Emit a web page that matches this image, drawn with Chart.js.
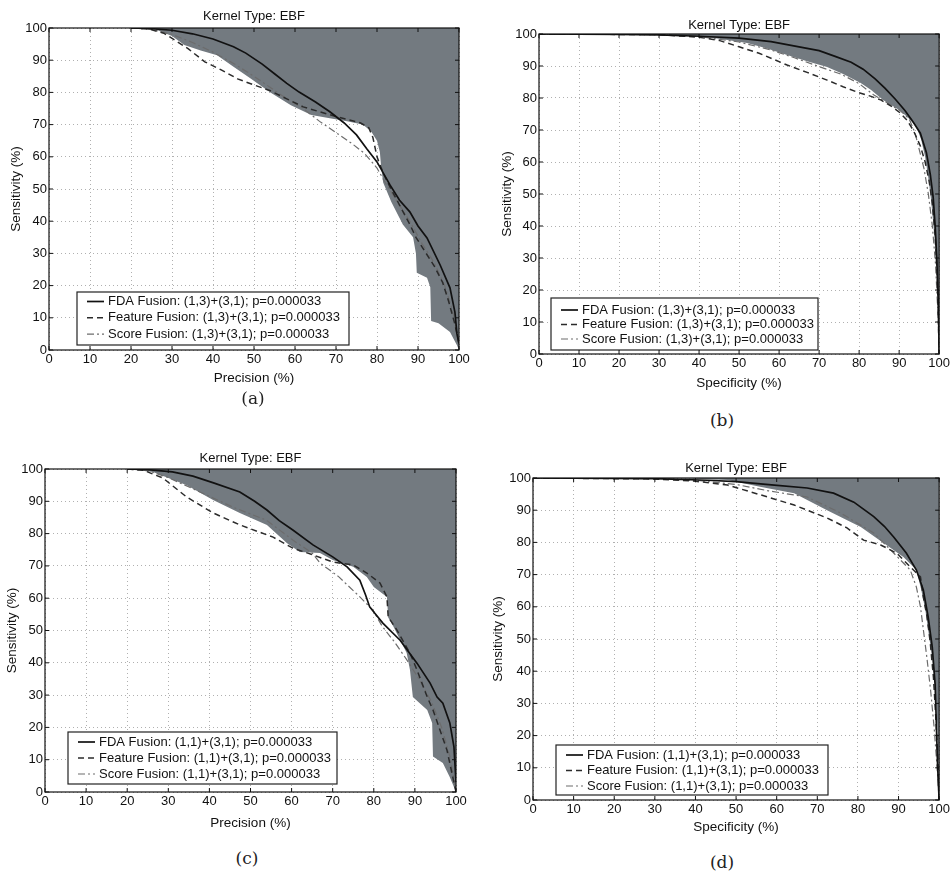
<!DOCTYPE html>
<html>
<head>
<meta charset="utf-8">
<script src="https://cdn.jsdelivr.net/npm/chart.js@4/dist/chart.umd.min.js"></script>
<style>
  body { margin: 0; background: #fff; width: 952px; height: 877px; position: relative; overflow: hidden; }
  canvas { position: absolute; }
  .cap { position: absolute; font-family: "DejaVu Serif", "Liberation Serif", serif; font-size: 17px; color: #222; transform: translate(-50%, -50%); }
</style>
</head>
<body>
<canvas id="pa" style="left:0;top:0" width="476" height="392"></canvas>
<canvas id="pb" style="left:476px;top:0" width="476" height="400"></canvas>
<canvas id="pc" style="left:0;top:430px" width="476" height="410"></canvas>
<canvas id="pd" style="left:476px;top:430px" width="476" height="410"></canvas>
<div class="cap" style="left:253px;top:398px">(a)</div>
<div class="cap" style="left:722px;top:420px">(b)</div>
<div class="cap" style="left:247px;top:858px">(c)</div>
<div class="cap" style="left:722px;top:862px">(d)</div>
<script>
// tick values shared by both axes of every panel
const tickValues = [0, 10, 20, 30, 40, 50, 60, 70, 80, 90, 100];
const plotTitle = 'Kernel Type: EBF';
const yTitle = 'Sensitivity (%)';
const xTitlePrecision = 'Precision (%)';
const xTitleSpecificity = 'Specificity (%)';

const labels13 = ['FDA Fusion: (1,3)+(3,1); p=0.000033', 'Feature Fusion: (1,3)+(3,1); p=0.000033', 'Score Fusion: (1,3)+(3,1); p=0.000033'];
const labels11 = ['FDA Fusion: (1,1)+(3,1); p=0.000033', 'Feature Fusion: (1,1)+(3,1); p=0.000033', 'Score Fusion: (1,1)+(3,1); p=0.000033'];

// (a) precision vs sensitivity, (1,3)+(3,1)
const fdaA = [[20,100],[25,99.8],[30,99.3],[35,98.2],[40,96.6],[45,94.2],[48,92.2],[52,88.8],[55,85.8],[58,82.8],[61,80.1],[65,77],[68.5,74],[72,70.5],[75,66.8],[77.5,62.5],[80,58.4],[83.2,51.2],[85.5,46.5],[88,42.9],[90,38.5],[92.2,34.8],[95.4,26.4],[97.8,19.3],[99,11.8],[99.5,5],[100,2]];
const featA = [[20,100],[24,99.8],[28,98.4],[31,96],[34,93.5],[38,89.5],[42,87],[46,84.2],[50,82.3],[54,80.5],[58,78],[62,75.5],[66,74],[70,72.5],[73,71.5],[76,70.5],[78,69],[79,66],[80,60],[81.5,55],[83,51],[85.5,45],[88,39],[89.5,35],[91.5,31],[94,26],[96,21],[97.5,15],[99,8],[100,2]];
const scoreA = [[20,100],[25,99.6],[30,98],[35,95.5],[40,92.5],[45,89],[50,85],[54,81.5],[58,78],[62,75],[66,71],[70,67.5],[74,64],[77,61],[80,56.5],[82,52],[85,46],[88,40],[91,33],[94,27],[96.5,20],[98.5,12],[99.5,5],[100,1]];
const shadeA = [[20,100],[26,99.5],[30,97.5],[33,94.7],[37,93],[41,91.5],[45,88],[49,84.5],[54,80],[59,76],[64,73],[68.5,72],[73,71],[76.5,70],[78.5,68],[80,65],[80.7,61.5],[81,57],[81.5,52],[83.5,46],[86.3,39],[88.8,35],[89.5,30],[89.7,24],[92.2,22.4],[93,19.5],[93.2,9],[95,8.3],[97.8,5.6],[99.5,1.5],[100,0]];

// (b) specificity vs sensitivity, (1,3)+(3,1)
const fdaB = [[0,100],[20,99.9],[30,99.7],[40,99.3],[50,98.7],[58,97.6],[65,96],[70,94.8],[74,93],[78,91.2],[81,89],[84,86],[86.5,83],[89,79.7],[91.5,76],[93.5,72.5],[95.3,69],[96.8,63],[97.8,56],[98.5,49],[99,40],[99.4,30],[99.7,20],[99.9,10],[100,0]];
const featB = [[0,100],[30,99.8],[40,99],[45,98],[50,96],[55,94],[62,90.3],[67,88],[72,85.6],[76,83.5],[79.4,81.9],[83,80.5],[85.4,79.4],[88,77.5],[90.3,75.3],[92,73],[93.5,70],[95.3,65],[96.5,60],[97.5,54],[98.3,47],[99,37],[99.5,25],[99.8,12],[100,0]];
const scoreB = [[0,100],[30,99.8],[40,99.2],[50,97.5],[58,95],[64,92.5],[70,89.8],[75.4,87.5],[80,84.5],[83.6,81],[87,78.5],[90.3,76],[92.5,73.5],[94,69],[95,64],[96.2,58],[97.3,50],[98.3,40],[99.1,28],[99.6,15],[100,0]];
const shadeB = [[30,100],[40,99.3],[45,98.5],[52,97.2],[57,95.5],[62,93.4],[67,91.5],[72,89.7],[76,87.5],[80.4,84.7],[83,82.5],[86,79.4],[90.3,76],[92.5,73.5],[94.3,71],[95.5,67],[96.5,61.6],[97.3,55],[98,48],[98.8,37],[99.3,27],[99.7,14],[100,0]];

// (c) precision vs sensitivity, (1,1)+(3,1)
const fdaC = [[20,100],[25,99.8],[31,99.1],[36,97.8],[41,95.7],[47.4,92.9],[51,90],[54,87.3],[57,84],[60.3,81.1],[65.2,76.5],[70,72.8],[73.5,69.7],[76.6,65.6],[78,61],[79,57.3],[82.2,52.3],[86.4,47],[90.5,39.9],[93.7,33.7],[95.4,29.4],[96.8,27.5],[98.5,21.4],[99.5,14],[100,3]];
const featC = [[20,100],[24,99.6],[28.7,97.2],[34.5,91.3],[40.9,86.4],[47.4,82.7],[55.5,78.9],[60.3,75.5],[65.2,73.4],[70,71.2],[75,70.3],[78.3,67.8],[81.5,64.7],[83.2,60.4],[83.5,54.2],[85.6,50.2],[88.8,43],[90.5,37.8],[93,29.4],[94.4,25.4],[96.1,19.2],[97.8,13],[99,5.9],[100,0]];
const scoreC = [[20,100],[25,99.5],[29.7,97.5],[37.7,92.9],[45.7,88.2],[53.8,84.2],[60.3,78],[65,74],[66.9,70.9],[71.5,66.6],[76.6,60.4],[79.8,56.3],[82,51.4],[85,46.5],[88,41],[91,35],[94,28],[96.5,20],[98.5,11],[99.5,4],[100,0]];
const shadeC = [[20,100],[26.3,99.1],[34.5,95],[40.9,90.4],[47.4,86.4],[54,82.7],[58.9,77],[62,74.3],[66.9,74],[70,71.8],[75,69.7],[78.3,66.6],[80,63.5],[83.2,60.4],[83.5,54],[84.7,51.4],[88,43],[88.8,37.8],[89.5,29.4],[93,25.4],[94.2,21.4],[94.4,11],[96.8,9],[98.5,4.6],[100,0]];

// (d) specificity vs sensitivity, (1,1)+(3,1)
const fdaD = [[0,100],[20,99.9],[30,99.8],[43,99.3],[50,98.9],[59.4,97.8],[67.5,96.9],[74,95.3],[79,92.5],[83.9,88],[86.5,85],[88.8,81.7],[91.9,76.7],[94.4,71.4],[96.1,65.2],[97.3,56.8],[98.3,47.5],[99,36],[99.3,24],[99.6,11],[100,0]];
const featD = [[0,100],[30,99.7],[40,99],[47.9,97.8],[56.2,94.7],[64.3,91.6],[72.4,87.6],[77.3,84.5],[81.4,80.7],[85.6,79.2],[89.5,76.7],[92.9,72.4],[95.4,69.3],[96.1,63],[97,57],[97.8,49],[98.6,38],[99.2,25],[99.7,12],[100,0]];
const scoreD = [[0,100],[30,99.8],[40,99.3],[50,98],[58,96],[67.5,94.1],[75.8,89.1],[83.9,82.9],[88.8,76.7],[92.9,71.4],[94.4,66.1],[95.4,60],[96.1,53],[97,44],[97.9,34],[98.8,22],[99.5,10],[100,0]];
const shadeD = [[35,100],[47.9,99.4],[56.2,97.2],[64.3,95.3],[72.4,90],[80.7,84.8],[86.3,79.8],[91.2,75.5],[94.4,71.4],[95.6,65.2],[96.6,59],[97.3,52.8],[98.3,44],[99.1,34],[99.6,22],[100,0]];

const FONT = '"Liberation Sans", Arial, sans-serif';
const shadeColor = '#737a80';

// draws title, box frame, inward ticks and the legend inside the plot
const decor = {
  id: 'decor',
  afterDraw(chart, args, o) {
    const { ctx, chartArea: a, scales: { x, y } } = chart;
    ctx.save();
    ctx.strokeStyle = '#111';
    ctx.lineWidth = 1.2;
    ctx.setLineDash([]);
    ctx.strokeRect(a.left, a.top, a.right - a.left, a.bottom - a.top);
    ctx.beginPath();
    tickValues.forEach(v => {
      const px = x.getPixelForValue(v), py = y.getPixelForValue(v);
      ctx.moveTo(px, a.bottom); ctx.lineTo(px, a.bottom - 4);
      ctx.moveTo(px, a.top); ctx.lineTo(px, a.top + 4);
      ctx.moveTo(a.left, py); ctx.lineTo(a.left + 4, py);
      ctx.moveTo(a.right, py); ctx.lineTo(a.right - 4, py);
    });
    ctx.lineWidth = 1;
    ctx.stroke();

    ctx.fillStyle = '#111';
    ctx.font = '13px ' + FONT;
    ctx.textAlign = 'center';
    ctx.textBaseline = 'middle';
    ctx.fillText(o.title, (a.left + a.right) / 2, o.titleY);

    // legend box
    const bx = a.left + o.legX, by = a.bottom - o.legBottom - o.legH;
    ctx.fillStyle = '#fff';
    ctx.fillRect(bx, by, o.legW, o.legH);
    ctx.strokeStyle = '#222';
    ctx.lineWidth = 1.2;
    ctx.strokeRect(bx, by, o.legW, o.legH);
    ctx.font = '13px ' + FONT;
    ctx.textAlign = 'left';
    chart.data.datasets.slice(0, 3).forEach((ds, i) => {
      const ry = by + o.rowTop + i * o.rowGap;
      ctx.beginPath();
      ctx.strokeStyle = ds.borderColor;
      ctx.lineWidth = ds.borderWidth;
      ctx.setLineDash(ds.borderDash);
      ctx.moveTo(bx + 10, ry);
      ctx.lineTo(bx + 27, ry);
      ctx.stroke();
      ctx.setLineDash([]);
      ctx.fillStyle = '#111';
      ctx.fillText(ds.label, bx + 31, ry);
    });
    ctx.restore();
  }
};

function curve(label, data, color, dash, width) {
  return { label: label, data: data, showLine: true, borderColor: color, borderDash: dash,
           borderWidth: width, pointRadius: 0, fill: false, tension: 0 };
}

function makePanel(id, p) {
  const axisTitleFont = { family: FONT, size: 13.5 };
  const tickFont = { family: FONT, size: 13 };
  const setTicks = s => { s.ticks = tickValues.map(v => ({ value: v })); };
  new Chart(document.getElementById(id), {
    type: 'scatter',
    data: {
      datasets: [
        curve(p.labels[0], p.fda, '#111', [], 1.7),
        curve(p.labels[1], p.feature, '#2b2b2b', [6, 4], 1.5),
        curve(p.labels[2], p.score, '#6c6c6c', [7, 3, 2, 3], 1.2),
        { label: 'region', data: p.shade, showLine: true, borderWidth: 0, borderColor: 'rgba(0,0,0,0)',
          pointRadius: 0, fill: 'end', backgroundColor: shadeColor, tension: 0 }
      ]
    },
    options: {
      responsive: false,
      animation: false,
      events: [],
      layout: { padding: { left: 0, top: p.top, right: p.right, bottom: 0 } },
      plugins: {
        legend: { display: false },
        tooltip: { enabled: false },
        decor: p.decor
      },
      scales: {
        x: {
          type: 'linear', min: 0, max: 100,
          afterBuildTicks: setTicks,
          afterFit: s => { s.height = p.xh; },
          ticks: { color: '#111', font: tickFont, padding: 2, maxRotation: 0 },
          grid: { color: '#b0b0b0', lineWidth: 1, drawTicks: false, borderDash: [1, 3] },
          border: { display: false, dash: [1, 3] },
          title: { display: true, text: p.xTitle, color: '#111', font: axisTitleFont, padding: { top: 0, bottom: p.xtp } }
        },
        y: {
          type: 'linear', min: 0, max: 100,
          afterBuildTicks: setTicks,
          afterFit: s => { s.width = p.yw; },
          ticks: { color: '#111', font: tickFont, padding: 2 },
          grid: { color: '#b0b0b0', lineWidth: 1, drawTicks: false, borderDash: [1, 3] },
          border: { display: false, dash: [1, 3] },
          title: { display: true, text: yTitle, color: '#111', font: axisTitleFont, padding: { top: p.ytp, bottom: 0 } }
        }
      }
    },
    plugins: [decor]
  });
}

makePanel('pa', {
  labels: labels13, fda: fdaA, feature: featA, score: scoreA, shade: shadeA, xTitle: xTitlePrecision,
  top: 28, right: 17, yw: 49, xh: 42, ytp: 8.5, xtp: 5.5,
  decor: { title: plotTitle, titleY: 16, legX: 28, legW: 272, legH: 53, legBottom: 5, rowTop: 9.5, rowGap: 16.3 }
});
makePanel('pb', {
  labels: labels13, fda: fdaB, feature: featB, score: scoreB, shade: shadeB, xTitle: xTitleSpecificity,
  top: 34, right: 10, yw: 63, xh: 46, ytp: 23.5, xtp: 8.5,
  decor: { title: plotTitle, titleY: 25, legX: 12, legW: 267, legH: 52, legBottom: 4, rowTop: 12, rowGap: 14.5 }
});
makePanel('pc', {
  labels: labels11, fda: fdaC, feature: featC, score: scoreC, shade: shadeC, xTitle: xTitlePrecision,
  top: 39, right: 20, yw: 45, xh: 48, ytp: 4.5, xtp: 8.5,
  decor: { title: plotTitle, titleY: 28, legX: 23, legW: 269, legH: 52, legBottom: 8, rowTop: 10, rowGap: 16 }
});
makePanel('pd', {
  labels: labels11, fda: fdaD, feature: featD, score: scoreD, shade: shadeD, xTitle: xTitleSpecificity,
  top: 48, right: 10, yw: 57, xh: 40, ytp: 14.5, xtp: 4.5,
  decor: { title: plotTitle, titleY: 38, legX: 23, legW: 272, legH: 50, legBottom: 5, rowTop: 10, rowGap: 15.5 }
});
</script>
</body>
</html>
